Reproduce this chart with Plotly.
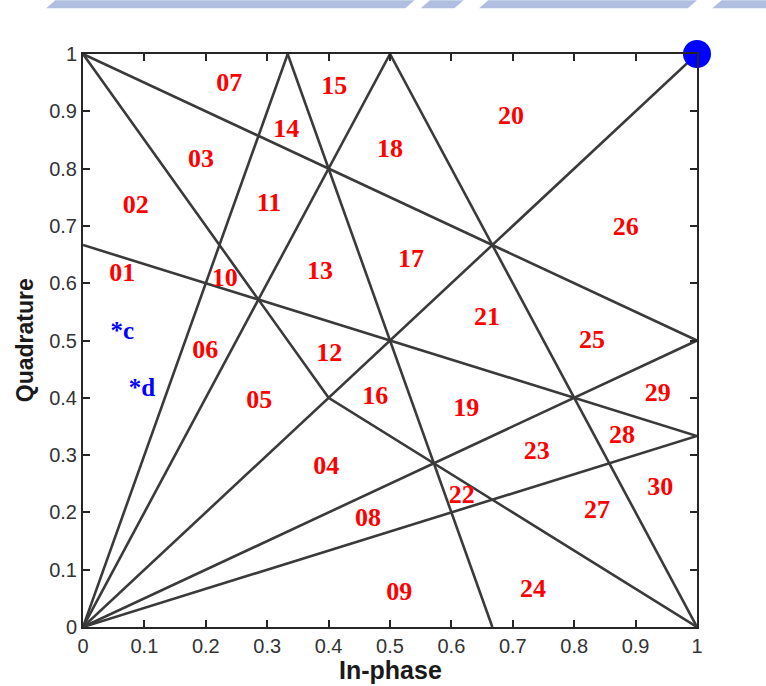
import plotly.graph_objects as go

# Decision boundaries in the I/Q plane (each entry is one polyline)
boundary_x = [[0, 1/3], [0, 0.5], [0, 1], [0, 1], [0, 1],
              [0, 1], [0, 1], [0, 0.4, 1], [1/3, 2/3], [0.5, 1]]
boundary_y = [[0, 1], [0, 1], [0, 1], [0, 0.5], [0, 1/3],
              [1, 0.5], [2/3, 1/3], [1, 0.4, 0], [1, 0], [1, 0]]

# Region numbers and where they sit
region_names = ["07", "15", "20", "14", "18", "03", "11", "02", "26", "17",
                "13", "01", "10", "21", "25", "06", "12", "29", "16", "05",
                "19", "28", "23", "04", "30", "22", "27", "08", "09", "24"]
region_x = [0.238, 0.409, 0.697, 0.331, 0.500, 0.192, 0.303, 0.086, 0.884, 0.534,
            0.386, 0.064, 0.231, 0.658, 0.829, 0.199, 0.401, 0.936, 0.476, 0.287,
            0.624, 0.878, 0.739, 0.396, 0.940, 0.617, 0.837, 0.464, 0.515, 0.733]
region_y = [0.946, 0.942, 0.890, 0.866, 0.831, 0.815, 0.738, 0.733, 0.695, 0.640,
            0.618, 0.616, 0.607, 0.538, 0.499, 0.480, 0.475, 0.405, 0.401, 0.394,
            0.379, 0.332, 0.304, 0.279, 0.241, 0.227, 0.202, 0.188, 0.059, 0.063]

# Sample points c and d
sample_names = ["*c", "*d"]
sample_x = [0.064, 0.096]
sample_y = [0.513, 0.414]

# Reference symbol
ref_x = [1.0]
ref_y = [1.0]

tick_vals = [0, 0.1, 0.2, 0.3, 0.4, 0.5, 0.6, 0.7, 0.8, 0.9, 1]
tick_text = ["0", "0.1", "0.2", "0.3", "0.4", "0.5", "0.6", "0.7", "0.8", "0.9", "1"]

fig = go.Figure()

lx, ly = [], []
for xs, ys in zip(boundary_x, boundary_y):
    lx += xs + [None]
    ly += ys + [None]
fig.add_trace(go.Scatter(x=lx, y=ly, mode="lines",
                         line=dict(color="#3a3a3a", width=2.6),
                         hoverinfo="skip", showlegend=False))

fig.add_trace(go.Scatter(x=region_x, y=region_y, mode="text", text=region_names,
                         textposition="middle center",
                         textfont=dict(family="Liberation Serif", size=26,
                                       color="#ff0000", weight="bold"),
                         showlegend=False))

fig.add_trace(go.Scatter(x=sample_x, y=sample_y, mode="text", text=sample_names,
                         textposition="middle center",
                         textfont=dict(family="Liberation Serif", size=25,
                                       color="#0000ff", weight="bold"),
                         showlegend=False))

fig.add_trace(go.Scatter(x=ref_x, y=ref_y, mode="markers",
                         marker=dict(size=28, color="#0000ff"),
                         cliponaxis=False, showlegend=False))

axis_common = dict(range=[0, 1], tickvals=tick_vals, ticktext=tick_text,
                   showgrid=False, zeroline=False, showline=True, mirror="ticks",
                   linecolor="#262626", linewidth=2, ticks="inside", ticklen=7,
                   tickwidth=2, tickcolor="#262626",
                   tickfont=dict(family="Liberation Sans", size=20, color="#333333"))

fig.update_xaxes(**axis_common)
fig.update_yaxes(**axis_common)

fig.add_annotation(text="<b>In-phase</b>", xref="paper", yref="paper",
                   x=0.5, y=-0.0755, xanchor="center", yanchor="middle",
                   showarrow=False,
                   font=dict(family="Liberation Sans", size=25, color="#1a1a1a"))
fig.add_annotation(text="<b>Quadrature</b>", xref="paper", yref="paper",
                   x=-0.095, y=0.5, xanchor="center", yanchor="middle",
                   textangle=-90, showarrow=False,
                   font=dict(family="Liberation Sans", size=23, color="#1a1a1a"))

# Light banner strip along the top of the page
band = "#b0bfe0"
fig.add_shape(type="path", xref="paper", yref="paper",
              path="M -0.045,1.094 L 0.54,1.094 L 0.525,1.080 L -0.06,1.080 Z",
              fillcolor=band, line=dict(width=0), layer="above")
fig.add_shape(type="path", xref="paper", yref="paper",
              path="M 0.565,1.094 L 0.62,1.094 L 0.605,1.080 L 0.55,1.080 Z",
              fillcolor=band, line=dict(width=0), layer="above")
fig.add_shape(type="path", xref="paper", yref="paper",
              path="M 0.66,1.094 L 1.00,1.094 L 0.985,1.080 L 0.645,1.080 Z",
              fillcolor=band, line=dict(width=0), layer="above")
fig.add_shape(type="path", xref="paper", yref="paper",
              path="M 1.04,1.094 L 1.13,1.094 L 1.13,1.080 L 1.025,1.080 Z",
              fillcolor=band, line=dict(width=0), layer="above")

fig.update_layout(width=766, height=686,
                  margin=dict(l=83, r=69, t=54, b=59),
                  paper_bgcolor="white", plot_bgcolor="white",
                  template="none", showlegend=False)

fig.write_html("out.html")
